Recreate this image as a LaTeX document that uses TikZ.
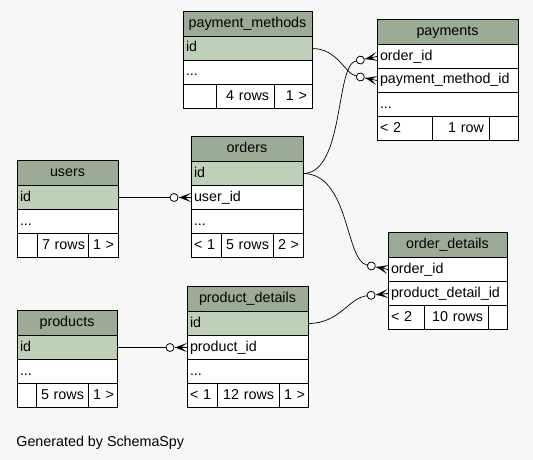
\documentclass[tikz,border=0pt]{standalone}
\usepackage{fontspec}
\newfontfamily\tblfont{Liberation Sans}
\usetikzlibrary{calc}
\definecolor{bgc}{HTML}{F7F7F7}
\definecolor{hdr}{HTML}{9BAB96}
\definecolor{pkc}{HTML}{BED1B8}

% zero-or-many end: crow's foot at the table edge plus an open circle
\newcommand\crowodot[3]{%
  \begin{scope}[shift={#1}, rotate=#2]
    \fill (-12,0) -- (0,4.5) -- (-6,0) -- (0,-4.5) -- cycle;
    \draw (-12,0) -- (0,0);
    \draw[fill=white] (-17,0) circle (4);
    \coordinate (#3) at (-21,0);
  \end{scope}}

\begin{document}
\begin{tikzpicture}[x=1pt, y=-1pt, line width=0.8pt,
  cell/.style={draw, fill=white, outer sep=0pt, inner xsep=3pt, inner ysep=0pt,
    minimum height=24pt, text height=10.5pt, text depth=3.5pt,
    font={\tblfont\fontsize{14.3}{17}\selectfont}, anchor=north west,
    align=left, text width=#1},
  head/.style={cell=#1, fill=hdr, minimum height=25.5pt, align=center},
  pk/.style={cell=#1, fill=pkc},
  footl/.style={cell=#1},
  footr/.style={cell=#1, inner xsep=5pt, align=right},
  edge/.style={draw, line width=0.7pt}]

\fill[bgc] (0,0) rectangle (533,460);
\useasboundingbox (0,0) rectangle (533,460);

% payment_methods
\node[head=123pt] (pm) at (183,11) {payment\_methods};
\node[pk=123pt] (pm-id) at (pm.south west) {id};
\node[cell=123pt] (pm-more) at (pm-id.south west) {...};
\node[footl=27pt] (pm-f1) at (pm-more.south west) {};
\node[footr=48pt] (pm-f2) at (pm-f1.north east) {4~rows};
\node[footr=28pt] (pm-f3) at (pm-f2.north east) {1~>};

% payments
\node[head=135pt] (pay) at (377,19) {payments};
\node[cell=135pt] (pay-oid) at (pay.south west) {order\_id};
\node[cell=135pt] (pay-pmid) at (pay-oid.south west) {payment\_method\_id};
\node[cell=135pt] (pay-more) at (pay-pmid.south west) {...};
\node[footl=49pt] (pay-f1) at (pay-more.south west) {<~2};
\node[footr=47pt] (pay-f2) at (pay-f1.north east) {1~row};
\node[footr=19pt] (pay-f3) at (pay-f2.north east) {};

% orders
\node[head=106pt] (ord) at (191,136) {orders};
\node[pk=106pt] (ord-id) at (ord.south west) {id};
\node[cell=106pt] (ord-uid) at (ord-id.south west) {user\_id};
\node[cell=106pt] (ord-more) at (ord-uid.south west) {...};
\node[footl=24pt] (ord-f1) at (ord-more.south west) {<~1};
\node[footr=42pt] (ord-f2) at (ord-f1.north east) {5~rows};
\node[footr=20pt] (ord-f3) at (ord-f2.north east) {2~>};

% users
\node[head=95pt] (usr) at (17,160) {users};
\node[pk=95pt] (usr-id) at (usr.south west) {id};
\node[cell=95pt] (usr-more) at (usr-id.south west) {...};
\node[footl=14pt] (usr-f1) at (usr-more.south west) {};
\node[footr=41pt] (usr-f2) at (usr-f1.north east) {7~rows};
\node[footr=20pt] (usr-f3) at (usr-f2.north east) {1~>};

% order_details
\node[head=113pt] (od) at (388,232) {order\_details};
\node[cell=113pt] (od-oid) at (od.south west) {order\_id};
\node[cell=113pt] (od-pdid) at (od-oid.south west) {product\_detail\_id};
\node[footl=30pt] (od-f1) at (od-pdid.south west) {<~2};
\node[footr=54pt] (od-f2) at (od-f1.north east) {10~rows};
\node[footr=9pt] (od-f3) at (od-f2.north east) {};

% products
\node[head=94pt] (prd) at (17,310) {products};
\node[pk=94pt] (prd-id) at (prd.south west) {id};
\node[cell=94pt] (prd-more) at (prd-id.south west) {...};
\node[footl=13pt] (prd-f1) at (prd-more.south west) {};
\node[footr=42pt] (prd-f2) at (prd-f1.north east) {5~rows};
\node[footr=19pt] (prd-f3) at (prd-f2.north east) {1~>};

% product_details
\node[head=115pt] (pd) at (187,286) {product\_details};
\node[pk=115pt] (pd-id) at (pd.south west) {id};
\node[cell=115pt] (pd-pid) at (pd-id.south west) {product\_id};
\node[cell=115pt] (pd-more) at (pd-pid.south west) {...};
\node[footl=24pt] (pd-f1) at (pd-more.south west) {<~1};
\node[footr=52pt] (pd-f2) at (pd-f1.north east) {12~rows};
\node[footr=19pt] (pd-f3) at (pd-f2.north east) {1~>};

% relationship ends
\crowodot{(pay-oid.west)}{12}{e-pay-oid}
\crowodot{(pay-pmid.west)}{-12}{e-pay-pmid}
\crowodot{(ord-uid.west)}{0}{e-ord-uid}
\crowodot{(od-oid.west)}{-12}{e-od-oid}
\crowodot{(od-pdid.west)}{6}{e-od-pdid}
\crowodot{(pd-pid.west)}{0}{e-pd-pid}

% relationships
\draw[edge] (pm-id.east) .. controls +(26,0) and +(-12,-2.5) .. (e-pay-pmid);
\draw[edge] (ord-id.east) .. controls +(42,0) and (335,63) .. (e-pay-oid);
\draw[edge] (ord-id.east) .. controls +(47,0) and (345,262) .. (e-od-oid);
\draw[edge] (pd-id.east) .. controls +(32,0) and (348,298) .. (e-od-pdid);
\draw[edge] (usr-id.east) -- (e-ord-uid);
\draw[edge] (prd-id.east) -- (e-pd-pid);

\node[anchor=base west, inner sep=0pt, font={\tblfont\fontsize{14.3}{17}\selectfont}]
  (gen) at (16,446.5) {Generated by SchemaSpy};
\end{tikzpicture}
\end{document}
